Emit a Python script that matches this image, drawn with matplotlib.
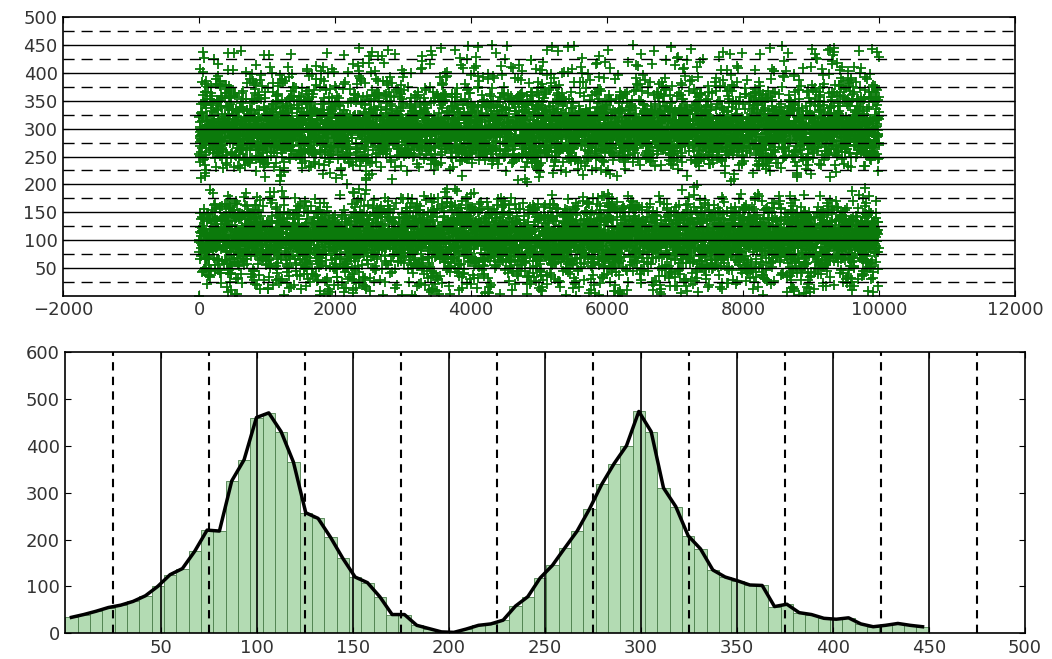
import numpy as np
import matplotlib
matplotlib.use("Agg")
import matplotlib.pyplot as plt

# histogram counts (70 bins between 0 and 450)
bin_lo, bin_hi, n_bins = 0, 450, 70
bin_counts = [34, 40, 47, 55, 60, 68, 80, 100, 125, 138,
              175, 220, 218, 325, 370, 460, 470, 430, 365, 257,
              245, 205, 160, 120, 108, 78, 40, 40, 17, 10,
              3, 2, 9, 17, 20, 28, 58, 78, 118, 145,
              182, 218, 265, 318, 362, 400, 473, 430, 310, 270,
              208, 180, 135, 120, 112, 103, 102, 57, 62, 44,
              40, 32, 30, 33, 20, 14, 17, 21, 17, 14]
x_span = 10000

top_yticks = [50, 100, 150, 200, 250, 300, 350, 400, 450, 500]
top_xticks = [-2000, 0, 2000, 4000, 6000, 8000, 10000, 12000]
bot_xticks = [50, 100, 150, 200, 250, 300, 350, 400, 450, 500]
bot_yticks = [0, 100, 200, 300, 400, 500, 600]
solid_lines = [50, 100, 150, 200, 250, 300, 350, 400, 450]
dashed_lines = [25, 75, 125, 175, 225, 275, 325, 375, 425, 475]

# expand the counts into sample values, spread evenly inside each bin
edges = np.linspace(bin_lo, bin_hi, n_bins + 1)
yvals = []
for i, n in enumerate(bin_counts):
    w = edges[i + 1] - edges[i]
    for j in range(n):
        yvals.append(edges[i] + (j + 0.5) / n * w)
yvals = np.array(yvals)
N = len(yvals)

# sample index: scramble the sorted values across the run (integer hash)
k = np.arange(N, dtype=np.uint64)
m = np.uint64(0xFFFFFFFF)
h = (k * np.uint64(0x9E3779B1)) & m
h ^= h >> np.uint64(15)
h = (h * np.uint64(0x85EBCA6B)) & m
h ^= h >> np.uint64(13)
h = (h * np.uint64(0xC2B2AE35)) & m
h ^= h >> np.uint64(16)
order = np.empty(N)
order[np.argsort(h)] = np.arange(N)
xvals = order * x_span / N

plt.rcParams['font.family'] = 'DejaVu Sans'
fig = plt.figure(figsize=(10.52, 6.59), dpi=100)
ax1 = fig.add_axes([0.060, 0.551, 0.905, 0.423])
ax2 = fig.add_axes([0.062, 0.039, 0.912, 0.427])

# top: samples
ax1.plot(xvals, yvals, '+', color='#0b7a0b', markersize=7, mew=1.3, zorder=2)
for v in solid_lines:
    ax1.axhline(v, color='k', lw=1, zorder=3)
for v in dashed_lines:
    ax1.axhline(v, color='k', lw=1, ls=(0, (8, 5)), zorder=3)
ax1.set_xlim(-2000, 12000)
ax1.set_ylim(0, 500)
ax1.set_xticks(top_xticks)
ax1.set_yticks(top_yticks)

# bottom: histogram + outline
counts, _, _ = ax2.hist(yvals, bins=edges, facecolor='#b3dbb3',
                        edgecolor='#4a7d4a', linewidth=0.6, zorder=1)
centers = (edges[:-1] + edges[1:]) / 2
for v in solid_lines:
    ax2.axvline(v, color='k', lw=1.2, zorder=2)
for v in dashed_lines:
    ax2.axvline(v, color='k', lw=1.5, ls=(0, (4, 3)), zorder=2)
ax2.plot(centers, counts, color='k', lw=2.5, zorder=4)
ax2.set_xlim(0, 500)
ax2.set_ylim(0, 600)
ax2.set_xticks(bot_xticks)
ax2.set_yticks(bot_yticks)

for ax in (ax1, ax2):
    ax.tick_params(direction='in', length=4, top=True, right=True,
                   labelsize=13, labelcolor='#333333', pad=4)
    for s in ax.spines.values():
        s.set_linewidth(1.2)

fig.savefig('out.png', dpi=100)
